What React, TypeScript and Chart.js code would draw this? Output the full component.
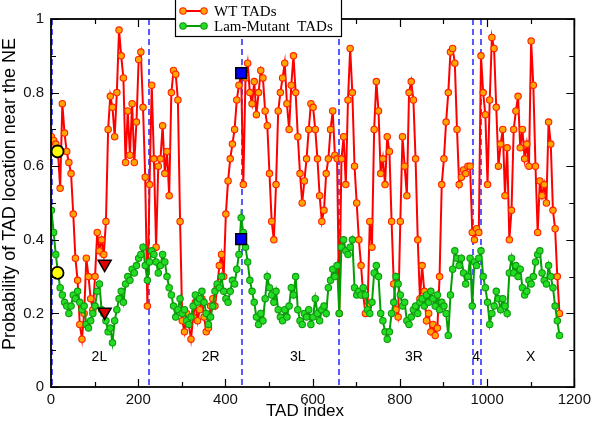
import React, { useEffect, useRef } from "react";
import { Chart, registerables } from "chart.js";
Chart.register(...registerables);

// Probability of TAD location near the NE, sampled every 5th TAD (index 1, 6, 11, ...)
const wtProb = [
  0.68, 0.67, 0.66, 0.64, 0.54, 0.77, 0.69, 0.64, 0.61, 0.58,
  0.47, 0.35, 0.29, 0.17, 0.13, 0.20, 0.35, 0.30, 0.24, 0.21,
  0.30, 0.42, 0.37, 0.40, 0.36, 0.45, 0.70, 0.79, 0.76, 0.68,
  0.80, 0.97, 0.90, 0.84, 0.61, 0.75, 0.63, 0.77, 0.61, 0.72,
  0.89, 0.91, 0.76, 0.57, 0.22, 0.55, 0.82, 0.62, 0.38, 0.60,
  0.62, 0.71, 0.58, 0.64, 0.52, 0.80, 0.86, 0.85, 0.78, 0.45,
  0.18, 0.15, 0.20, 0.17, 0.13, 0.19, 0.23, 0.18, 0.21, 0.24,
  0.19, 0.15, 0.16, 0.22, 0.24, 0.22, 0.27, 0.33, 0.36, 0.30,
  0.47, 0.56, 0.62, 0.66, 0.70, 0.78, 0.82, 0.85, 0.55, 0.84,
  0.88, 0.80, 0.77, 0.83, 0.74, 0.80, 0.86, 0.84, 0.75, 0.71,
  0.58, 0.45, 0.40, 0.55, 0.75, 0.80, 0.84, 0.88, 0.77, 0.70,
  0.82, 0.90, 0.80, 0.68, 0.58, 0.50, 0.56, 0.62, 0.70, 0.77,
  0.76, 0.70, 0.62, 0.52, 0.45, 0.48, 0.58, 0.62, 0.70, 0.75,
  0.63, 0.62, 0.20, 0.62, 0.68, 0.55, 0.78, 0.92, 0.80, 0.60,
  0.50, 0.40, 0.33, 0.25, 0.20, 0.22, 0.45, 0.38, 0.70, 0.83,
  0.75, 0.58, 0.62, 0.55, 0.68, 0.64, 0.45, 0.28, 0.21, 0.19,
  0.45, 0.68, 0.60, 0.52, 0.80, 0.83, 0.78, 0.62, 0.40, 0.24,
  0.33, 0.26, 0.18, 0.20, 0.15, 0.17, 0.14, 0.16, 0.30, 0.55,
  0.62, 0.72, 0.80, 0.91, 0.92, 0.88, 0.70, 0.55, 0.57, 0.59,
  0.58, 0.60, 0.60, 0.42, 0.40, 0.43, 0.42, 0.90, 0.80, 0.74,
  0.55, 0.78, 0.95, 0.92, 0.76, 0.60, 0.66, 0.70, 0.52, 0.65,
  0.40, 0.48, 0.70, 0.75, 0.79, 0.65, 0.70, 0.62, 0.66, 0.60,
  0.94, 0.82, 0.60, 0.42, 0.56, 0.52, 0.55, 0.50, 0.72, 0.66,
  0.48, 0.43, 0.30, 0.20,
];

const mutantProb = [
  0.48, 0.42, 0.36, 0.31, 0.27, 0.25, 0.23, 0.22, 0.20, 0.22,
  0.25, 0.24, 0.26, 0.23, 0.21, 0.22, 0.17, 0.16, 0.18, 0.20,
  0.22, 0.26, 0.28, 0.21, 0.20, 0.18, 0.15, 0.16, 0.12, 0.18,
  0.21, 0.24, 0.26, 0.23, 0.28, 0.30, 0.29, 0.32, 0.31, 0.33,
  0.35, 0.36, 0.38, 0.33, 0.29, 0.34, 0.37, 0.36, 0.34, 0.31,
  0.33, 0.36, 0.34, 0.30, 0.27, 0.25, 0.22, 0.19, 0.21, 0.24,
  0.20, 0.21, 0.18, 0.17, 0.19, 0.22, 0.25, 0.23, 0.24, 0.26,
  0.23, 0.20, 0.17, 0.19, 0.22, 0.26, 0.28, 0.27, 0.30, 0.26,
  0.24, 0.23, 0.26, 0.29, 0.28, 0.32, 0.36, 0.46, 0.42, 0.38,
  0.34, 0.29, 0.26, 0.23, 0.19, 0.17, 0.20, 0.18, 0.24, 0.30,
  0.27, 0.25, 0.23, 0.26, 0.21, 0.19, 0.18, 0.21, 0.19, 0.22,
  0.27, 0.25, 0.30, 0.21, 0.18, 0.17, 0.20, 0.19, 0.21, 0.17,
  0.19, 0.24, 0.20, 0.18, 0.21, 0.22, 0.20, 0.27, 0.29, 0.32,
  0.30, 0.33, 0.20, 0.38, 0.40, 0.37, 0.36, 0.38, 0.40, 0.27,
  0.25, 0.26, 0.25, 0.27, 0.25, 0.21, 0.20, 0.23, 0.31, 0.33,
  0.30, 0.20, 0.18, 0.15, 0.13, 0.15, 0.20, 0.23, 0.30, 0.28,
  0.25, 0.22, 0.23, 0.18, 0.17, 0.19, 0.21, 0.22, 0.20, 0.23,
  0.24, 0.22, 0.25, 0.23, 0.26, 0.24, 0.22, 0.25, 0.21, 0.23,
  0.22, 0.20, 0.14, 0.25, 0.32, 0.37, 0.35, 0.33, 0.35, 0.31,
  0.28, 0.30, 0.35, 0.22, 0.34, 0.33, 0.35, 0.37, 0.30, 0.27,
  0.23, 0.17, 0.20, 0.22, 0.26, 0.24, 0.21, 0.24, 0.22, 0.20,
  0.31, 0.35, 0.31, 0.33, 0.30, 0.32, 0.27, 0.25, 0.26, 0.29,
  0.28, 0.30, 0.34, 0.36, 0.37, 0.31, 0.29, 0.28, 0.33, 0.30,
  0.27, 0.22, 0.18, 0.14,
];

const tadIndex = wtProb.map((_, i) => 1 + i * 5);

const chromBoundaries = [3, 225, 439, 660, 968, 987];
const armLabels = ["2L", "2R", "3L", "3R", "4", "X"];
const armLabelX = [111, 366, 566, 832, 975, 1100];
const armLabelY = 0.08;

const circleX = [15, 15];
const circleY = [0.64, 0.31];
const triangleX = [123, 123];
const triangleY = [0.334, 0.204];
const squareX = [436, 436];
const squareY = [0.853, 0.402];

const xMajor = [0, 200, 400, 600, 800, 1000, 1200];
const xMinor = [100, 300, 500, 700, 900, 1100];
const yMajor = [0, 0.2, 0.4, 0.6, 0.8, 1];
const yMinor = [0.1, 0.3, 0.5, 0.7, 0.9];

const legendLabels = ["WT TADs", "Lam-Mutant  TADs"];
const xTitle = "TAD index";
const yTitle = "Probability of TAD location near the NE";

const SANS = "'Liberation Sans', Arial, Helvetica, sans-serif";
const SERIF = "'Liberation Serif', 'Times New Roman', serif";

const decorPlugin = {
  id: "decor",
  beforeDatasetsDraw(chart: any) {
    const { ctx, chartArea: a, scales } = chart;
    const x = scales.x;
    ctx.save();
    ctx.strokeStyle = "rgb(20,20,255)";
    ctx.lineWidth = 1.4;
    ctx.setLineDash([6, 4]);
    chromBoundaries.forEach((b) => {
      const px = Math.round(x.getPixelForValue(b));
      ctx.beginPath();
      ctx.moveTo(px, a.top);
      ctx.lineTo(px, a.bottom);
      ctx.stroke();
    });
    ctx.restore();
  },
  afterDraw(chart: any) {
    const { ctx, chartArea: a, scales } = chart;
    const x = scales.x;
    const y = scales.y;
    ctx.save();
    // arm labels
    ctx.fillStyle = "#000";
    ctx.font = `14px ${SANS}`;
    ctx.textAlign = "center";
    ctx.textBaseline = "middle";
    armLabels.forEach((t, i) => {
      ctx.fillText(t, x.getPixelForValue(armLabelX[i]), y.getPixelForValue(armLabelY));
    });
    // frame
    ctx.strokeStyle = "#000";
    ctx.lineWidth = 1.8;
    ctx.strokeRect(a.left, a.top, a.right - a.left, a.bottom - a.top);
    // ticks
    ctx.lineWidth = 1.2;
    const drawX = (vals: number[], len: number) => {
      vals.forEach((v) => {
        const px = Math.round(x.getPixelForValue(v)) + 0.5;
        ctx.beginPath();
        ctx.moveTo(px, a.bottom);
        ctx.lineTo(px, a.bottom - len);
        ctx.moveTo(px, a.top);
        ctx.lineTo(px, a.top + len);
        ctx.stroke();
      });
    };
    const drawY = (vals: number[], len: number) => {
      vals.forEach((v) => {
        const py = Math.round(y.getPixelForValue(v)) + 0.5;
        ctx.beginPath();
        ctx.moveTo(a.left, py);
        ctx.lineTo(a.left + len, py);
        ctx.moveTo(a.right, py);
        ctx.lineTo(a.right - len, py);
        ctx.stroke();
      });
    };
    drawX(xMajor, 8);
    drawX(xMinor, 5);
    drawY(yMajor, 8);
    drawY(yMinor, 5);
    // axis titles
    ctx.fillStyle = "#000";
    ctx.font = `17px ${SANS}`;
    ctx.textAlign = "center";
    ctx.textBaseline = "middle";
    ctx.fillText(xTitle, 305, 411);
    ctx.save();
    ctx.translate(10, 194);
    ctx.rotate(-Math.PI / 2);
    ctx.font = `18px ${SANS}`;
    ctx.fillText(yTitle, 0, 0);
    ctx.restore();
    // legend
    const lx = 175, ly = -2, lw = 166, lh = 38;
    ctx.fillStyle = "#fff";
    ctx.fillRect(lx, ly, lw, lh);
    ctx.strokeStyle = "#000";
    ctx.lineWidth = 1.2;
    ctx.strokeRect(lx + 0.5, ly + 0.5, lw, lh);
    const rows = [
      { y: 11, line: "#ff0000", fill: "#ffa500", border: "#ff2200" },
      { y: 26, line: "#00a000", fill: "#22dd22", border: "#119911" },
    ];
    rows.forEach((r, i) => {
      ctx.strokeStyle = r.line;
      ctx.lineWidth = 2;
      ctx.beginPath();
      ctx.moveTo(183, r.y);
      ctx.lineTo(204, r.y);
      ctx.stroke();
      [183, 204].forEach((cx) => {
        ctx.beginPath();
        ctx.arc(cx, r.y, 3.2, 0, Math.PI * 2);
        ctx.fillStyle = r.fill;
        ctx.fill();
        ctx.strokeStyle = r.border;
        ctx.lineWidth = 1.1;
        ctx.stroke();
      });
      ctx.fillStyle = "#000";
      ctx.font = `15px ${SERIF}`;
      ctx.textAlign = "left";
      ctx.textBaseline = "middle";
      ctx.fillText(legendLabels[i], 214, r.y + 1);
    });
    ctx.restore();
  },
};

export default function App() {
  const ref = useRef<HTMLCanvasElement | null>(null);
  useEffect(() => {
    if (!ref.current) return;
    const wtData = tadIndex.map((t, i) => ({ x: t, y: wtProb[i] }));
    const mutData = tadIndex.map((t, i) => ({ x: t, y: mutantProb[i] }));
    const chart = new Chart(ref.current, {
      type: "scatter",
      data: {
        datasets: [
          {
            label: "circles",
            data: circleX.map((v, i) => ({ x: v, y: circleY[i] })),
            showLine: false,
            pointStyle: "circle",
            pointRadius: 6,
            pointBackgroundColor: "#ffff00",
            pointBorderColor: "#000",
            pointBorderWidth: 1.8,
            order: 0,
          },
          {
            label: "triangles",
            data: triangleX.map((v, i) => ({ x: v, y: triangleY[i] })),
            showLine: false,
            pointStyle: "triangle",
            rotation: 180,
            pointRadius: 7.5,
            pointBackgroundColor: "#e00000",
            pointBorderColor: "#000",
            pointBorderWidth: 1.5,
            order: 0,
          },
          {
            label: "squares",
            data: squareX.map((v, i) => ({ x: v, y: squareY[i] })),
            showLine: false,
            pointStyle: "rect",
            pointRadius: 7.6,
            pointBackgroundColor: "#0000ff",
            pointBorderColor: "#000",
            pointBorderWidth: 1.5,
            order: 0,
          },
          {
            label: legendLabels[1],
            data: mutData,
            showLine: true,
            borderColor: "#00a000",
            borderWidth: 2,
            pointRadius: 3.2,
            pointBackgroundColor: "#22dd22",
            pointBorderColor: "#119911",
            pointBorderWidth: 1.1,
            order: 1,
          },
          {
            label: legendLabels[0],
            data: wtData,
            showLine: true,
            borderColor: "#ff0000",
            borderWidth: 2,
            pointRadius: 3.2,
            pointBackgroundColor: "#ffa500",
            pointBorderColor: "#ff2200",
            pointBorderWidth: 1.1,
            order: 2,
          },
        ],
      },
      options: {
        responsive: false,
        animation: false,
        events: [],
        layout: { padding: { left: 0, right: 16, top: 19, bottom: 0 } },
        plugins: { legend: { display: false }, tooltip: { enabled: false } },
        elements: { line: { tension: 0 } },
        scales: {
          x: {
            type: "linear",
            min: 0,
            max: 1200,
            grid: { display: false, drawTicks: false },
            border: { display: false },
            ticks: {
              stepSize: 200,
              padding: 4,
              color: "#111",
              font: { family: SANS, size: 15 },
              maxRotation: 0,
              callback: (v: any) => String(v),
            },
            afterFit: (s: any) => {
              s.height = 36;
            },
          },
          y: {
            type: "linear",
            min: 0,
            max: 1,
            grid: { display: false, drawTicks: false },
            border: { display: false },
            ticks: {
              stepSize: 0.2,
              padding: 7,
              color: "#111",
              font: { family: SANS, size: 15 },
              callback: (v: any) => String(Math.round(v * 10) / 10),
            },
            afterFit: (s: any) => {
              s.width = 51;
            },
          },
        },
      },
      plugins: [decorPlugin],
    } as any);
    return () => chart.destroy();
  }, []);
  return (
    <div style={{ position: "fixed", left: 0, top: 0, width: 595, height: 423, background: "#fff" }}>
      <canvas ref={ref} width={595} height={423} style={{ display: "block" }} />
    </div>
  );
}
